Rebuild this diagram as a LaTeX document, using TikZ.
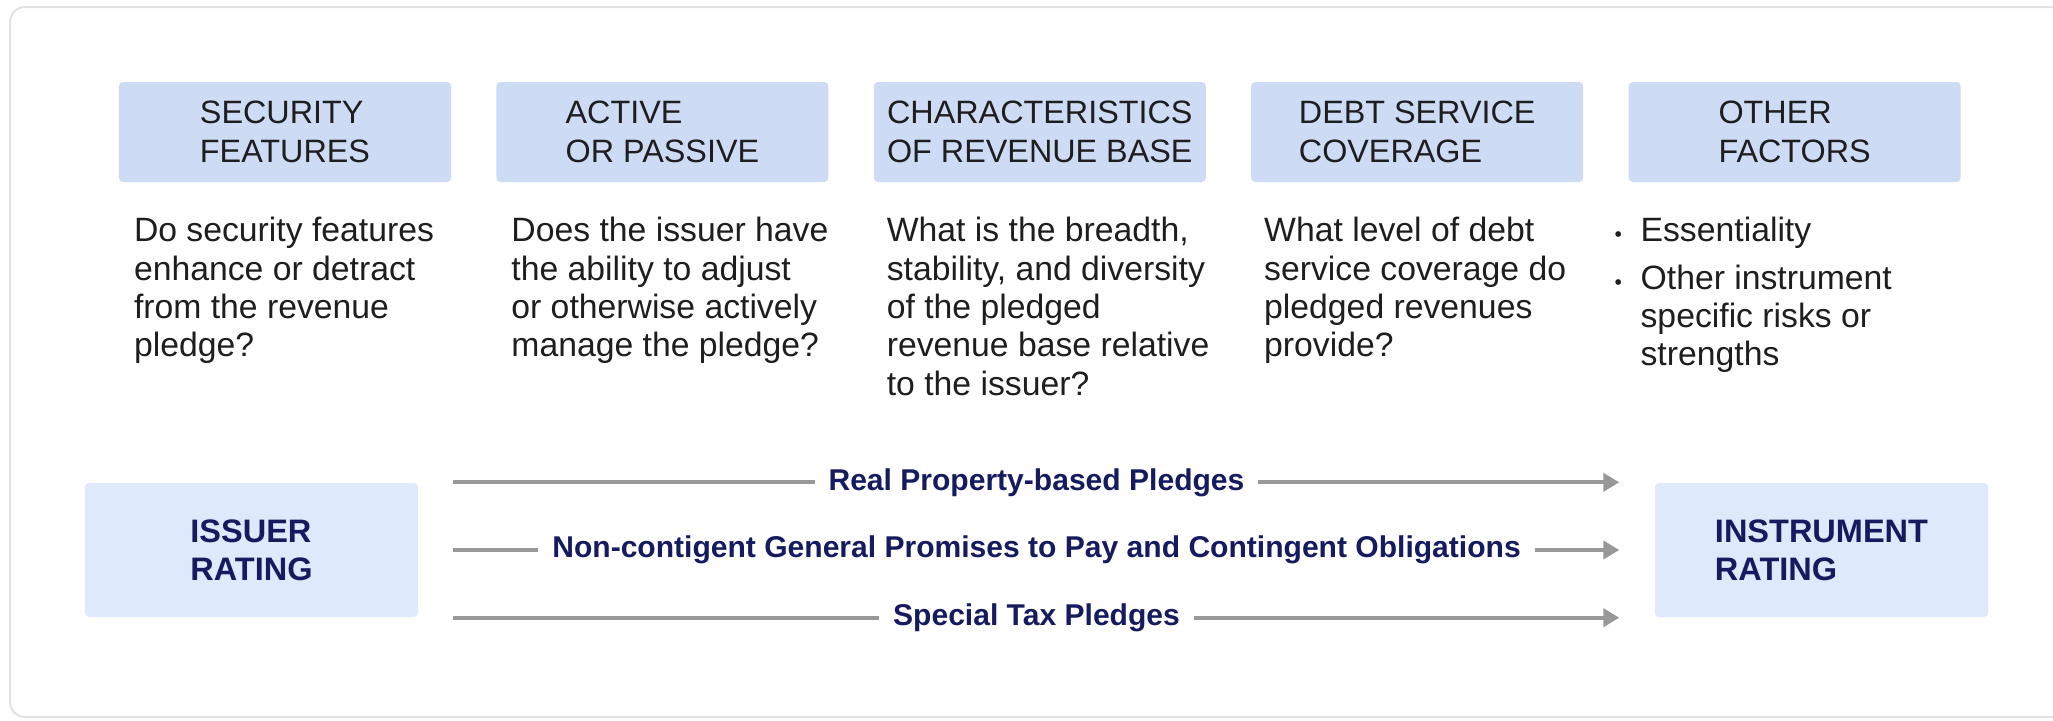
\documentclass[tikz,border=0pt]{standalone}
\usepackage{fontspec}
\setmainfont{Liberation Sans}
\usetikzlibrary{calc}
\usetikzlibrary{arrows.meta,positioning}

\definecolor{hdrblue}{RGB}{205,219,245}
\definecolor{rateblue}{RGB}{222,233,252}
\definecolor{navy}{RGB}{22,27,96}
\definecolor{ink}{RGB}{30,30,30}
\definecolor{flowgray}{RGB}{152,152,152}
\definecolor{framegray}{RGB}{226,226,226}

\newcommand{\smallbullet}{{\fontsize{6}{6}\selectfont\textbullet}}

\begin{document}
\begin{tikzpicture}[x=0.1mm,y=0.1mm,>=Stealth]
    \tikzset{hdr/.style={fill=hdrblue,rounded corners=0.4mm,minimum width=33.2mm,minimum height=10mm,
                         inner sep=0pt,align=left,text=ink,font=\fontsize{9.2}{11.1}\selectfont}}
    \tikzset{note/.style={anchor=north west,inner sep=0pt,align=left,text=ink,font=\fontsize{9.6}{10.9}\selectfont}}
    \tikzset{rating/.style={fill=rateblue,rounded corners=0.4mm,minimum width=33.3mm,minimum height=13.4mm,
                            inner sep=0pt,align=left,text=navy,font=\bfseries\fontsize{9.25}{10.8}\selectfont}}
    \tikzset{flow/.style={draw=flowgray,line width=1.1pt,-{Triangle[length=1.6mm,width=1.8mm]},
                          shorten <=3.4mm,shorten >=3.5mm}}
    \tikzset{plabel/.style={fill=white,text=navy,inner xsep=1.4mm,inner ysep=0.6mm,
                            font=\bfseries\fontsize{8.55}{10}\selectfont}}

    \useasboundingbox (0,0) rectangle (2053,720);
    \draw[framegray,line width=0.2mm,rounded corners=1.5mm] (10,3) rectangle (2100,713);

    % Top row: the five factors
    \node[hdr] (sec) at (285,588) {SECURITY\\FEATURES\hspace{2.6mm}};
    \node[hdr,right=4.4mm of sec] (act) {ACTIVE\\OR PASSIVE};
    \node[hdr,right=4.4mm of act] (base) {CHARACTERISTICS\\OF REVENUE BASE};
    \node[hdr,right=4.4mm of base] (dsc) {DEBT SERVICE\\COVERAGE};
    \node[hdr,right=4.4mm of dsc] (oth) {OTHER\\FACTORS\hspace{1.4mm}};

    % Questions under each factor
    \node[note] (secq) at ($(sec.south west)+(15,-34)$) {Do security features\\enhance or detract\\from the revenue\\pledge?};
    \node[note] (actq) at ($(act.south west)+(15,-34)$) {Does the issuer have\\the ability to adjust\\or otherwise actively\\manage the pledge?};
    \node[note] (baseq) at ($(base.south west)+(13,-34)$) {What is the breadth,\\stability, and diversity\\of the pledged\\revenue base relative\\to the issuer?};
    \node[note] (dscq) at ($(dsc.south west)+(13,-34)$) {What level of debt\\service coverage do\\pledged revenues\\provide?};
    \node[note] (othq) at ($(oth.south west)+(-14,-34)$)
        {\makebox[2.6mm][l]{\smallbullet}Essentiality\\[0.9mm]
         \makebox[2.6mm][l]{\smallbullet}Other instrument\\
         \hspace*{2.6mm}specific risks or\\
         \hspace*{2.6mm}strengths};

    % Bottom row: issuer to instrument
    \node[rating] (issuer) at (251.5,170) {ISSUER\\RATING};
    \node[rating] (instr) at (1821.5,170) {INSTRUMENT\\RATING};

    \draw[flow] (issuer.north east) -- node[plabel] (realp) {Real Property-based Pledges} (instr.north west);
    \draw[flow] (issuer.east) -- node[plabel] (genp) {Non-contigent General Promises to Pay and Contingent Obligations} (instr.west);
    \draw[flow] (issuer.south east) -- node[plabel] (taxp) {Special Tax Pledges} (instr.south west);
\end{tikzpicture}
\end{document}
